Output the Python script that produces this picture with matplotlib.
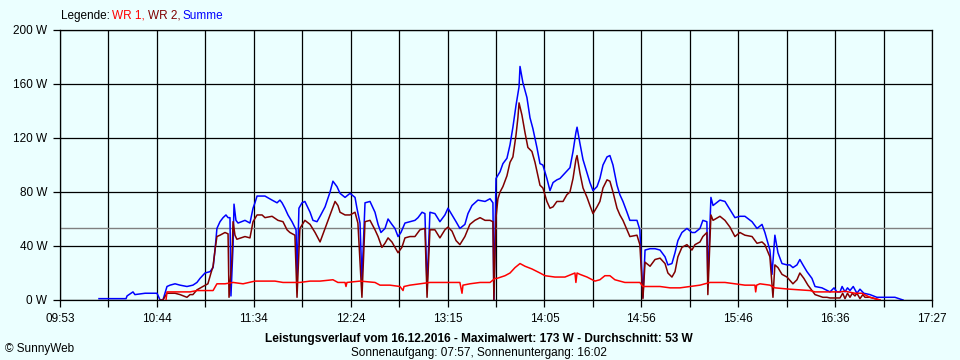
import matplotlib
matplotlib.use("Agg")
import matplotlib.pyplot as plt
import numpy as np

# ---- data (minutes after 09:53, watts) ----
summe_t = [20.3, 34.4, 34.9, 38.0, 39.0, 44.3, 50.5, 52.1, 53.6, 55.7, 57.3, 59.9, 62.5, 66.1, 69.2, 71.3,
           72.9, 75.5, 78.1, 79.7, 80.7, 81.7, 83.3, 84.9, 86.4, 87.5, 88.5, 89.0, 90.1, 90.6, 91.6, 92.7,
           96.3, 98.9, 100.5, 101.5, 102.6, 106.7, 110.4, 113.0, 114.5, 115.6, 117.1, 118.7, 120.8, 122.9,
           123.4, 124.4, 126.0, 127.5, 130.2, 131.7, 133.8, 135.4, 138.0, 140.6, 142.1, 144.2, 145.8, 148.4,
           151.0, 153.6, 154.6, 156.2, 157.2, 158.8, 161.4, 164.0, 165.6, 167.1, 169.2, 170.8, 172.8, 174.4,
           176.0, 177.5, 179.6, 182.2, 184.8, 186.4, 188.5, 190.0, 191.1, 192.6, 195.2, 197.8, 200.4, 202.0,
           204.1, 206.2, 208.2, 210.8, 212.4, 214.5, 217.6, 221.3, 223.9, 225.4, 225.9, 227.0, 229.1, 230.6,
           232.7, 234.3, 235.8, 237.4, 239.0, 239.5, 241.0, 243.1, 244.7, 246.2, 248.3, 249.9, 251.4, 253.5,
           255.1, 256.7, 258.7, 260.3, 262.9, 265.5, 267.1, 268.6, 269.2, 270.7, 272.3, 274.4, 275.9, 277.5,
           279.6, 281.1, 282.7, 284.8, 286.3, 287.9, 290.0, 291.5, 293.1, 295.2, 296.7, 300.4, 301.9, 302.5,
           303.5, 304.6, 307.2, 309.8, 312.4, 315.0, 316.5, 318.6, 320.2, 321.7, 323.8, 326.4, 329.0, 330.6,
           333.2, 334.7, 336.8, 337.3, 338.9, 340.0, 343.6, 346.2, 348.8, 351.4, 354.0, 356.6, 360.3, 362.9,
           365.5, 367.0, 369.6, 370.7, 372.2, 373.8, 375.9, 378.5, 380.0, 381.6, 383.7, 385.2, 386.8, 388.9,
           391.5, 393.1, 396.7, 400.9, 403.0, 404.5, 406.1, 407.2, 408.7, 410.0, 411.3, 413.0, 414.9, 416.5,
           418.5, 421.7, 425.3, 434.7, 438.9]
summe_w = [1, 1, 3, 6, 4, 5, 5, 0, 0, 10, 11, 12, 11, 10, 11, 13,
           16, 20, 21, 24, 37, 53, 58, 61, 63, 61, 61, 3, 40, 71, 59, 57,
           59, 57, 68, 72, 77, 77, 74, 72, 74, 72, 68, 63, 58, 52,
           15, 68, 72, 73, 65, 59, 58, 62, 69, 80, 88, 84, 79, 76,
           79, 76, 68, 57, 15, 72, 73, 65, 56, 50, 53, 60, 56, 53,
           47, 50, 57, 58, 59, 61, 65, 64, 10, 65, 64, 58, 63, 68,
           63, 58, 53, 56, 64, 70, 74, 73, 75, 72, 0, 90, 95, 101,
           105, 115, 128, 144, 158, 173, 161, 150, 135, 127, 113, 101, 100, 90,
           81, 87, 89, 90, 94, 98, 110, 124, 128, 116, 104, 94, 87, 81,
           84, 90, 100, 106, 107, 100, 85, 78, 73, 65, 59, 59, 52, 33,
           2, 37, 38, 38, 37, 32, 26, 27, 35, 44, 50, 53, 50, 50,
           53, 59, 58, 13, 76, 70, 74, 73, 67, 61, 62, 62, 58, 53,
           56, 50, 37, 19, 48, 35, 27, 26, 26, 24, 26, 30, 26, 21,
           16, 10, 9, 6, 9, 6, 6, 10, 6, 9, 7, 10, 5, 8,
           5, 4, 2, 2, 0]

wr2_t = [52.1, 53.6, 55.7, 59.9, 62.5, 66.1, 67.7, 69.2, 71.3, 74.4, 77.0, 78.6, 79.7, 80.7, 81.7, 83.3,
         85.9, 87.5, 88.0, 89.5, 90.1, 91.1, 92.1, 96.3, 98.9, 100.5, 102.6, 105.2, 106.7, 110.4, 113.5,
         116.1, 118.2, 119.7, 122.3, 123.4, 124.9, 127.5, 130.2, 132.8, 135.4, 138.0, 140.6, 143.2, 144.7,
         145.8, 148.4, 151.0, 153.6, 155.1, 157.2, 158.8, 161.4, 164.0, 165.6, 167.6, 169.2, 170.8, 172.8,
         174.4, 176.0, 178.0, 179.6, 182.2, 184.8, 187.4, 190.0, 191.1, 192.6, 195.2, 197.8, 200.4, 202.0,
         204.1, 206.2, 208.2, 210.8, 213.4, 216.0, 218.7, 221.3, 223.9, 225.4, 225.9, 227.0, 228.0, 229.1,
         230.6, 232.7, 234.3, 235.8, 237.4, 238.4, 239.0, 240.5, 242.1, 243.6, 245.7, 247.3, 248.8, 249.9,
         251.4, 253.5, 255.1, 256.7, 258.7, 261.9, 263.9, 265.5, 267.1, 268.6, 269.2, 270.7, 272.3, 274.4,
         275.9, 277.5, 279.6, 281.1, 282.7, 284.8, 286.3, 287.9, 290.0, 291.5, 293.1, 295.2, 296.7, 300.4,
         301.9, 303.5, 304.6, 307.2, 309.8, 312.4, 315.0, 316.5, 318.6, 320.2, 321.7, 323.8, 326.4, 329.0,
         330.6, 333.2, 334.7, 336.8, 337.3, 338.9, 340.0, 343.6, 346.2, 348.8, 351.4, 354.0, 356.6, 360.3,
         362.9, 365.5, 367.0, 369.6, 371.2, 372.2, 373.8, 375.9, 378.5, 381.6, 383.7, 385.2, 387.3, 389.4,
         392.0, 393.1, 397.2, 399.3, 400.9, 406.1, 407.5, 408.7, 410.0, 411.3, 412.5, 413.9, 414.9, 416.5,
         418.0, 419.1, 421.7, 426.9]
wr2_w = [0, 0, 5, 5, 4, 2, 4, 4, 7.5, 10, 12, 20, 25, 37, 47, 48,
         50, 49, 2, 30, 58, 48, 45, 47, 46, 58, 63, 63, 61, 62, 59,
         58, 52, 50, 48, 2, 53, 59, 56, 50, 43, 53, 63, 73, 70,
         65, 63, 63, 65, 57, 2, 58, 59, 52, 47, 39, 42, 46, 43,
         39, 35, 39, 46, 47, 47, 52, 53, 2, 52, 52, 46, 52, 54,
         51, 44, 41, 47, 56, 59, 61, 59, 59, 58, 0, 61, 75, 80,
         84, 92, 102, 106, 122, 135, 146, 137, 124, 113, 110, 102, 92, 85,
         83, 73, 68, 69, 73, 73, 78, 80, 90, 104, 107, 94, 83, 76,
         70, 64, 69, 73, 83, 89, 88, 80, 68, 63, 59, 52, 47, 48,
         41, 1, 28, 25, 30, 31, 27, 20, 17, 21, 32, 39, 41, 37,
         41, 43, 47, 50, 4, 63, 59, 62, 59, 54, 47, 50, 48, 47,
         42, 43, 41, 32, 2, 26, 24, 19, 17, 12, 15, 20, 16, 11,
         6, 4, 2, 2, 1.5, 1.5, 5, 1, 5, 2, 5, 3, 5, 1,
         4, 2, 2, 0]

wr1_t = [55.2, 55.7, 67.7, 71.3, 79.7, 81.7, 85.9, 90.1, 95.3, 101.5, 111.9, 116.1, 124.9, 130.2, 135.4,
         142.1, 144.7, 148.4, 148.9, 149.4, 156.2, 164.0, 166.6, 171.8, 177.0, 178.6, 179.1, 182.2, 187.4,
         192.6, 200.4, 208.2, 209.3, 209.8, 213.4, 218.7, 223.9, 226.5, 227.5, 231.7, 234.3, 236.9, 239.5,
         242.1, 245.7, 249.9, 252.5, 257.7, 262.9, 268.1, 268.6, 269.2, 270.7, 274.4, 278.5, 281.1, 283.7,
         286.3, 288.9, 294.1, 301.9, 303.5, 312.4, 317.6, 322.8, 328.0, 333.2, 338.4, 346.2, 351.4, 356.6,
         361.8, 362.2, 362.7, 364.4, 369.6, 372.2, 380.0, 390.5, 393.1, 406.1, 408.7, 413.9, 417.5, 421.7,
         426.9]
wr1_w = [0, 6, 6, 7, 7, 12, 12, 13, 12, 14, 14, 13, 13, 14, 14,
         15, 13, 13, 10, 13, 14, 13, 11, 11, 10, 7, 10, 11, 12,
         13, 13, 13, 5, 11, 12, 13, 13, 16, 16, 18, 20, 24, 27,
         25, 23, 20, 18, 17, 17, 20, 13, 20, 19, 17, 14, 15, 18,
         18, 15, 13, 13, 10, 10, 9, 9, 10, 11, 13, 13, 12, 11,
         11, 6, 11, 12, 11, 9, 8, 7, 6, 6, 6.5, 5, 5, 2,
         0]

average_w = 53
x_labels = ["09:53", "10:44", "11:34", "12:24", "13:15", "14:05", "14:56", "15:46", "16:36", "17:27"]
y_values = [0, 40, 80, 120, 160, 200]
legend_parts = [("Legende:", "black"), ("WR 1,", "#ff0000"), ("WR 2,", "#800000"), ("Summe", "#0000ff")]

BG = "#ebffff"
plt.rcParams["font.family"] = ["Liberation Sans", "DejaVu Sans"]
FS = 8.2

fig = plt.figure(figsize=(9.6, 3.6), dpi=100, facecolor=BG)
ax = fig.add_axes([60 / 960, 60 / 360, 872 / 960, 270 / 360])
ax.set_facecolor(BG)

ax.set_xlim(0, 454)
ax.set_ylim(0, 200)

major = np.linspace(0, 454, len(x_labels))
minor = np.linspace(0, 454, 2 * len(x_labels) - 1)[1::2]
ax.set_xticks(major)
ax.set_xticklabels(x_labels)
ax.set_xticks(minor, minor=True)
ax.set_yticks(y_values)
ax.set_yticklabels([f"{v} W" for v in y_values])

ax.grid(True, which="both", axis="x", color="black", linewidth=0.9)
ax.grid(True, which="major", axis="y", color="black", linewidth=0.9)
ax.set_axisbelow(True)
for s in ax.spines.values():
    s.set_color("black")
    s.set_linewidth(0.9)

ax.tick_params(axis="both", which="both", direction="out", length=5, width=0.9,
               color="black", labelsize=FS + 0.3, pad=4)

ax.axhline(average_w, color="#808080", linewidth=1.0, zorder=1.5)

ax.plot(summe_t, summe_w, color="#0000ff", linewidth=1.1, zorder=2)
ax.plot(wr2_t, wr2_w, color="#800000", linewidth=1.1, zorder=3)
ax.plot(wr1_t, wr1_w, color="#ff0000", linewidth=1.1, zorder=4)


def ft(x, y, s, **kw):
    return fig.text(x / 960, 1 - y / 360, s, **kw)


# legend text, chained left to right
fig.canvas.draw()
renderer = fig.canvas.get_renderer()
xpos = 61
for label, col in legend_parts:
    t = ft(xpos, 16, label, color=col, fontsize=FS + 0.3, va="center", ha="left")
    bb = t.get_window_extent(renderer=renderer)
    xpos = bb.x1 + 2.5

ft(479, 339, "Leistungsverlauf vom 16.12.2016 - Maximalwert: 173 W - Durchschnitt: 53 W",
   fontsize=FS + 0.4, fontweight="bold", ha="center", va="center")
ft(479, 353, "Sonnenaufgang: 07:57, Sonnenuntergang: 16:02", fontsize=FS + 0.3, ha="center", va="center")
ft(5, 349, "\u00a9 SunnyWeb", fontsize=FS + 0.3, ha="left", va="center")

fig.savefig("out.png", dpi=100, facecolor=BG)
